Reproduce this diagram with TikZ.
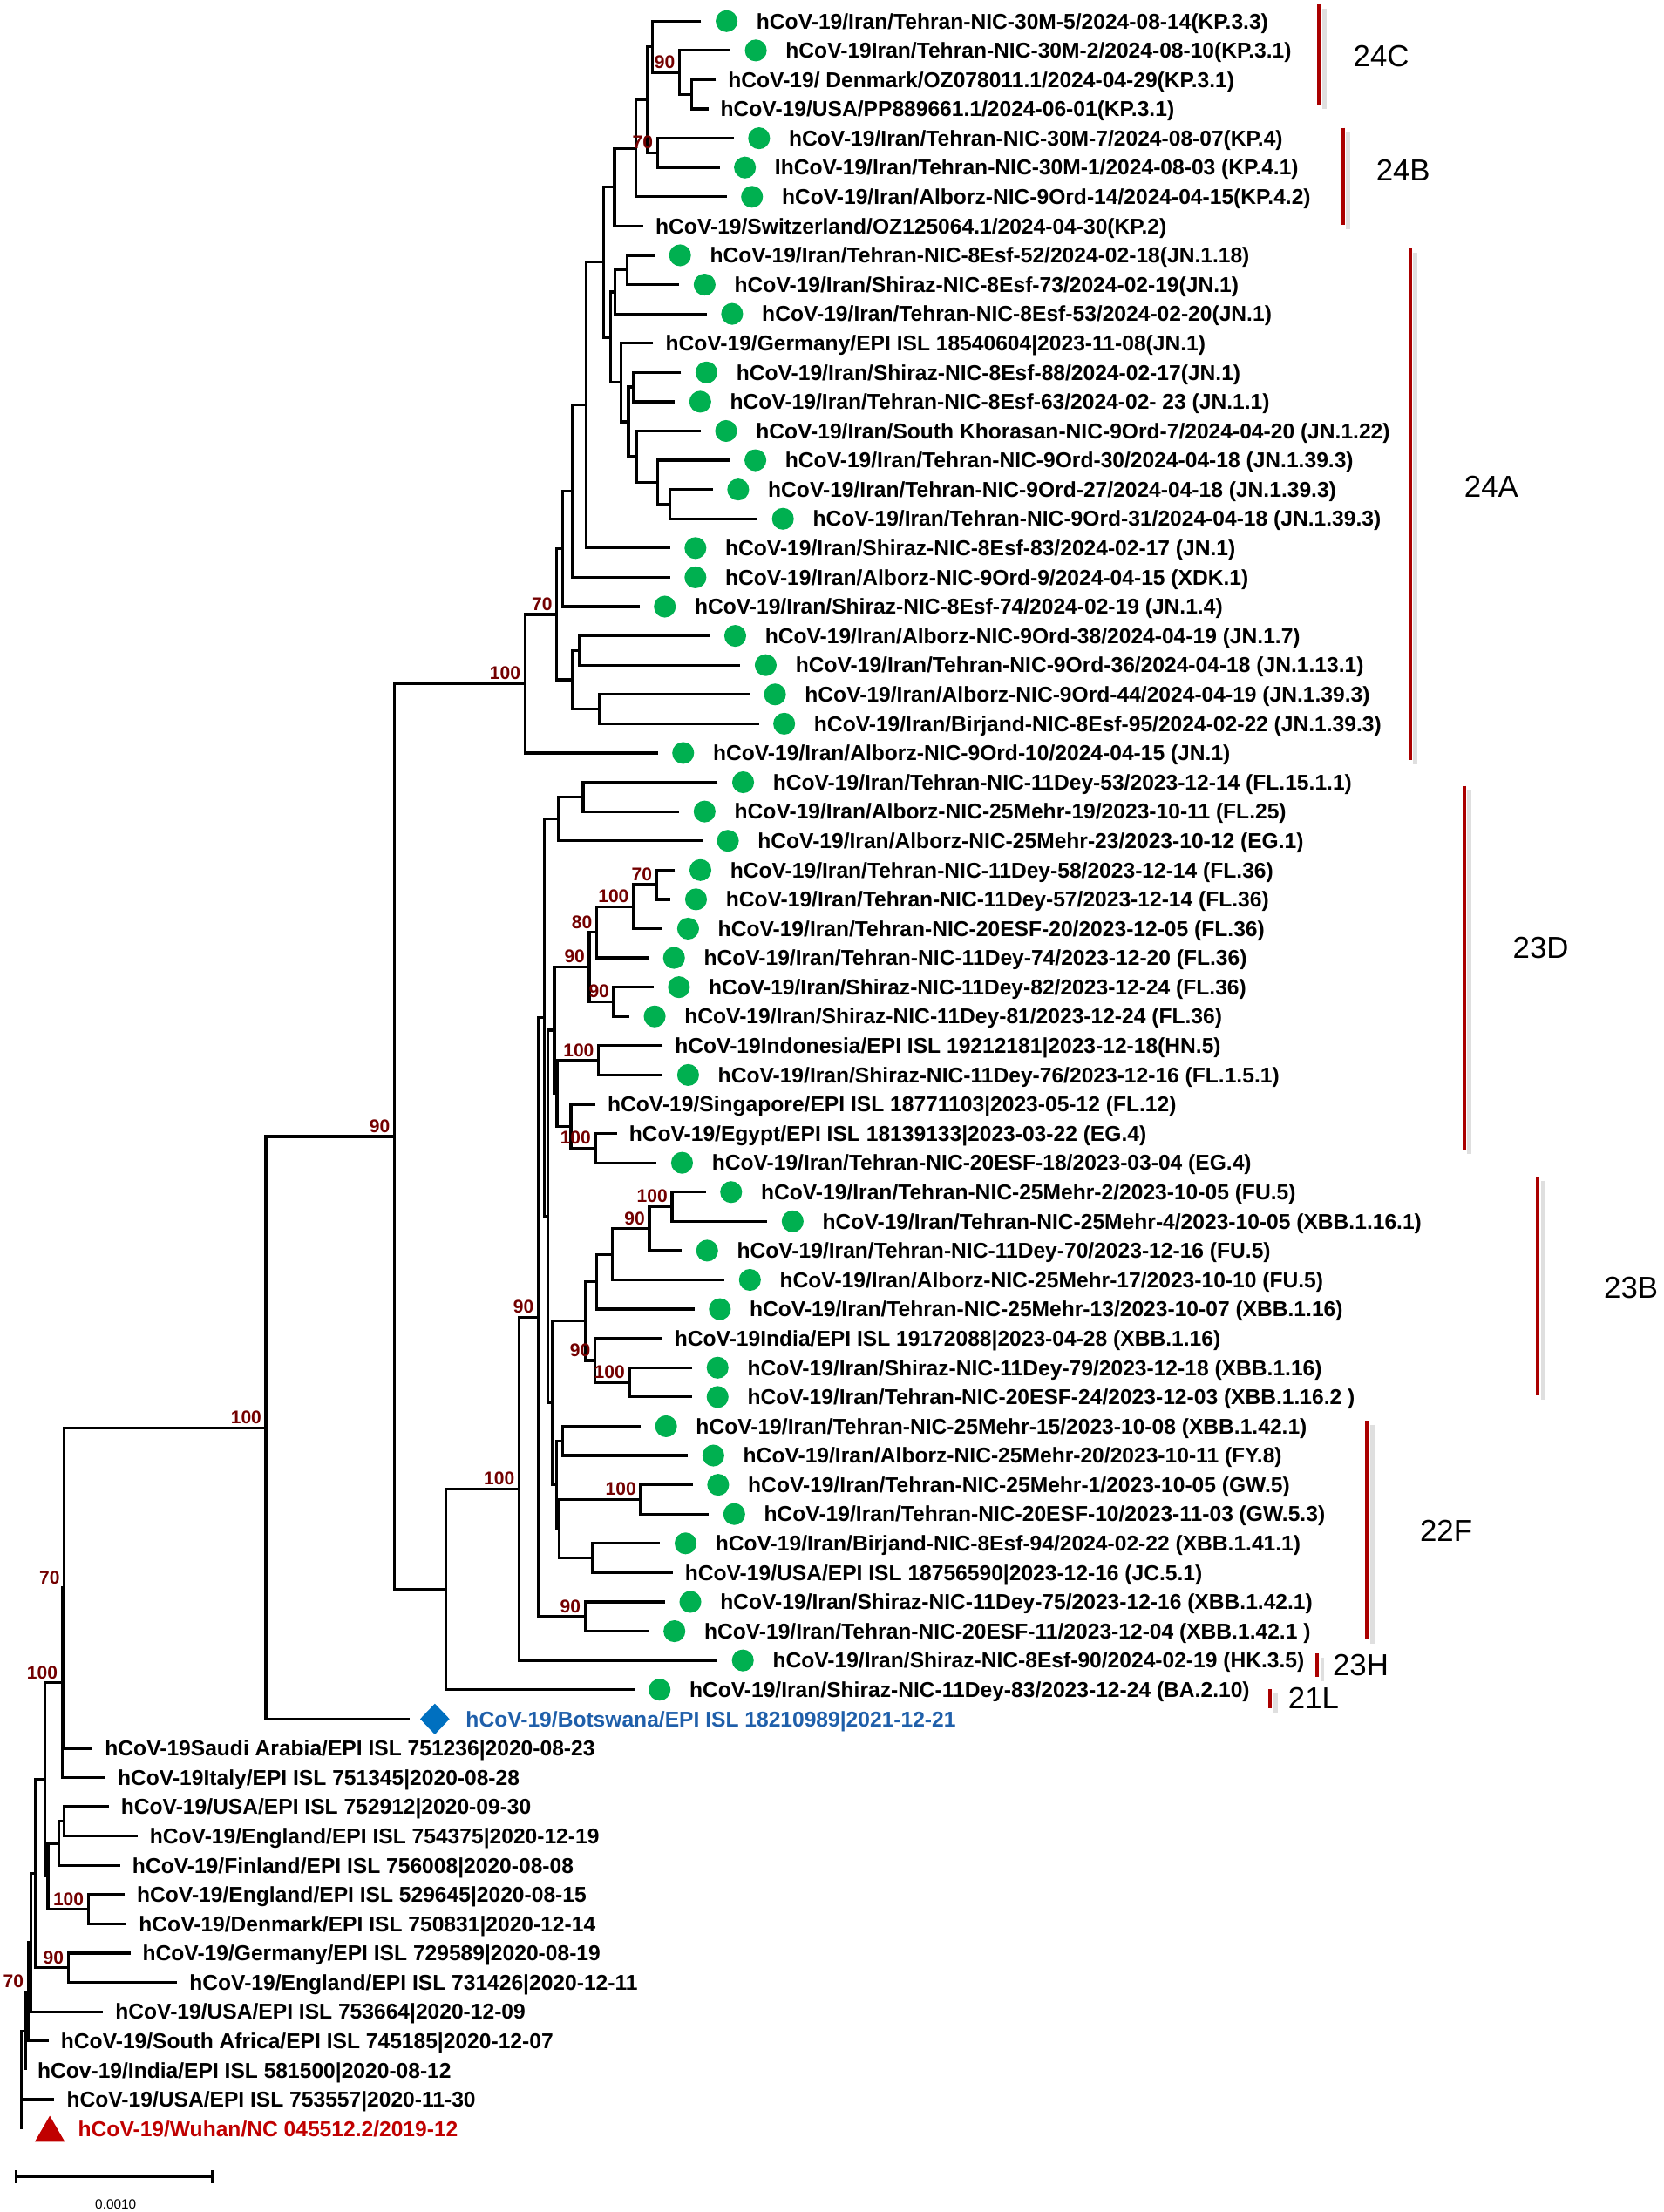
\documentclass[tikz,border=0pt]{standalone}
\usepackage{fontspec}
\setmainfont{Liberation Sans}
\usetikzlibrary{shapes.geometric}

\definecolor{dotgreen}{RGB}{0,176,80}
\definecolor{bootred}{RGB}{115,0,0}
\definecolor{barred}{RGB}{170,0,0}
\definecolor{botsblue}{RGB}{31,95,170}
\definecolor{diablue}{RGB}{0,112,192}
\definecolor{wuhanred}{RGB}{192,0,0}

% leaf with a green dot (Iranian sample) and plain reference leaf
\newcommand{\iranleaf}[4]{%
  \coordinate (#1) at (#2,#3);
  \node[greendot] (#1d) at ([xshift=18pt]#1) {};
  \node[leaflabel] (#1t) at ([xshift=39pt]#1) {#4};}
\newcommand{\refleaf}[4]{%
  \coordinate (#1) at (#2,#3);
  \node[leaflabel] (#1t) at ([xshift=8.5pt]#1) {#4};}
\newcommand{\clade}[3]{\draw[branch] (#2) -| (#1) |- (#3);}
\newcommand{\bootlabel}[2]{\node[bootval] (bs#1) at (#1) {#2};}
\newcommand{\cladebar}[6]{%
  \draw[barshadow] (#2,#3) -- (#2,#4);
  \draw[cladebar] (#2,#3) -- (#2,#4);
  \node[cladename] (c#1) at (#5,#6) {#1};}

\begin{document}
\begin{tikzpicture}[x=1pt,y=-20.75pt,line join=miter]
  \tikzstyle{branch}=[line width=2pt]
  \tikzstyle{leaflabel}=[anchor=west,inner sep=0pt,text height=12pt,text depth=1.2pt,
                         font=\fontsize{15.2}{18}\selectfont\bfseries]
  \tikzstyle{greendot}=[circle,fill=dotgreen,inner sep=0pt,minimum size=15.5pt]
  \tikzstyle{bootval}=[anchor=south east,inner sep=0pt,xshift=-3pt,yshift=2.5pt,
                       text=bootred,font=\fontsize{13}{15}\selectfont\bfseries]
  \tikzstyle{cladebar}=[barred,line width=2.5pt]
  \tikzstyle{barshadow}=[gray!25,line width=3pt,xshift=3.5pt,yshift=-3pt]
  \tikzstyle{cladename}=[inner sep=0pt,font=\fontsize{21.5}{24}\selectfont]

  \useasboundingbox (0,0.2771) rectangle (1179,75.843);

  % 24C / 24B
  \iranleaf{l1}{497}{1}{hCoV-19/Iran/Tehran-NIC-30M-5/2024-08-14(KP.3.3)}
  \iranleaf{l2}{517.7}{2}{hCoV-19Iran/Tehran-NIC-30M-2/2024-08-10(KP.3.1)}
  \refleaf{l3}{507.4}{3}{hCoV-19/ Denmark/OZ078011.1/2024-04-29(KP.3.1)}
  \refleaf{l4}{502}{4}{hCoV-19/USA/PP889661.1/2024-06-01(KP.3.1)}
  \iranleaf{l5}{520}{5}{hCoV-19/Iran/Tehran-NIC-30M-7/2024-08-07(KP.4)}
  \iranleaf{l6}{510}{6}{IhCoV-19/Iran/Tehran-NIC-30M-1/2024-08-03 (KP.4.1)}
  \iranleaf{l7}{515}{7}{hCoV-19/Iran/Alborz-NIC-9Ord-14/2024-04-15(KP.4.2)}
  \refleaf{l8}{456}{8}{hCoV-19/Switzerland/OZ125064.1/2024-04-30(KP.2)}
  % 24A
  \iranleaf{l9}{464}{9}{hCoV-19/Iran/Tehran-NIC-8Esf-52/2024-02-18(JN.1.18)}
  \iranleaf{l10}{481.4}{10}{hCoV-19/Iran/Shiraz-NIC-8Esf-73/2024-02-19(JN.1)}
  \iranleaf{l11}{500.9}{11}{hCoV-19/Iran/Tehran-NIC-8Esf-53/2024-02-20(JN.1)}
  \refleaf{l12}{463}{12}{hCoV-19/Germany/EPI ISL 18540604|2023-11-08(JN.1)}
  \iranleaf{l13}{482.7}{13}{hCoV-19/Iran/Shiraz-NIC-8Esf-88/2024-02-17(JN.1)}
  \iranleaf{l14}{478.3}{14}{hCoV-19/Iran/Tehran-NIC-8Esf-63/2024-02- 23 (JN.1.1)}
  \iranleaf{l15}{496.6}{15}{hCoV-19/Iran/South Khorasan-NIC-9Ord-7/2024-04-20 (JN.1.22)}
  \iranleaf{l16}{517.4}{16}{hCoV-19/Iran/Tehran-NIC-9Ord-30/2024-04-18 (JN.1.39.3)}
  \iranleaf{l17}{505.2}{17}{hCoV-19/Iran/Tehran-NIC-9Ord-27/2024-04-18 (JN.1.39.3)}
  \iranleaf{l18}{536.9}{18}{hCoV-19/Iran/Tehran-NIC-9Ord-31/2024-04-18 (JN.1.39.3)}
  \iranleaf{l19}{474.9}{19}{hCoV-19/Iran/Shiraz-NIC-8Esf-83/2024-02-17 (JN.1)}
  \iranleaf{l20}{474.9}{20}{hCoV-19/Iran/Alborz-NIC-9Ord-9/2024-04-15 (XDK.1)}
  \iranleaf{l21}{453.2}{21}{hCoV-19/Iran/Shiraz-NIC-8Esf-74/2024-02-19 (JN.1.4)}
  \iranleaf{l22}{503.1}{22}{hCoV-19/Iran/Alborz-NIC-9Ord-38/2024-04-19 (JN.1.7)}
  \iranleaf{l23}{524.7}{23}{hCoV-19/Iran/Tehran-NIC-9Ord-36/2024-04-18 (JN.1.13.1)}
  \iranleaf{l24}{531.3}{24}{hCoV-19/Iran/Alborz-NIC-9Ord-44/2024-04-19 (JN.1.39.3)}
  \iranleaf{l25}{537.8}{25}{hCoV-19/Iran/Birjand-NIC-8Esf-95/2024-02-22 (JN.1.39.3)}
  \iranleaf{l26}{466.2}{26}{hCoV-19/Iran/Alborz-NIC-9Ord-10/2024-04-15 (JN.1)}
  % 23D
  \iranleaf{l27}{508.7}{27}{hCoV-19/Iran/Tehran-NIC-11Dey-53/2023-12-14 (FL.15.1.1)}
  \iranleaf{l28}{481.4}{28}{hCoV-19/Iran/Alborz-NIC-25Mehr-19/2023-10-11 (FL.25)}
  \iranleaf{l29}{497.9}{29}{hCoV-19/Iran/Alborz-NIC-25Mehr-23/2023-10-12 (EG.1)}
  \iranleaf{l30}{478.4}{30}{hCoV-19/Iran/Tehran-NIC-11Dey-58/2023-12-14 (FL.36)}
  \iranleaf{l31}{475.3}{31}{hCoV-19/Iran/Tehran-NIC-11Dey-57/2023-12-14 (FL.36)}
  \iranleaf{l32}{469.7}{32}{hCoV-19/Iran/Tehran-NIC-20ESF-20/2023-12-05 (FL.36)}
  \iranleaf{l33}{459.7}{33}{hCoV-19/Iran/Tehran-NIC-11Dey-74/2023-12-20 (FL.36)}
  \iranleaf{l34}{463.2}{34}{hCoV-19/Iran/Shiraz-NIC-11Dey-82/2023-12-24 (FL.36)}
  \iranleaf{l35}{446}{35}{hCoV-19/Iran/Shiraz-NIC-11Dey-81/2023-12-24 (FL.36)}
  \refleaf{l36}{469.7}{36}{hCoV-19Indonesia/EPI ISL 19212181|2023-12-18(HN.5)}
  \iranleaf{l37}{469.7}{37}{hCoV-19/Iran/Shiraz-NIC-11Dey-76/2023-12-16 (FL.1.5.1)}
  \refleaf{l38}{422}{38}{hCoV-19/Singapore/EPI ISL 18771103|2023-05-12 (FL.12)}
  \refleaf{l39}{437.2}{39}{hCoV-19/Egypt/EPI ISL 18139133|2023-03-22 (EG.4)}
  \iranleaf{l40}{465.4}{40}{hCoV-19/Iran/Tehran-NIC-20ESF-18/2023-03-04 (EG.4)}
  % 23B
  \iranleaf{l41}{500.2}{41}{hCoV-19/Iran/Tehran-NIC-25Mehr-2/2023-10-05 (FU.5)}
  \iranleaf{l42}{543.8}{42}{hCoV-19/Iran/Tehran-NIC-25Mehr-4/2023-10-05 (XBB.1.16.1)}
  \iranleaf{l43}{483.2}{43}{hCoV-19/Iran/Tehran-NIC-11Dey-70/2023-12-16 (FU.5)}
  \iranleaf{l44}{513.5}{44}{hCoV-19/Iran/Alborz-NIC-25Mehr-17/2023-10-10 (FU.5)}
  \iranleaf{l45}{492.2}{45}{hCoV-19/Iran/Tehran-NIC-25Mehr-13/2023-10-07 (XBB.1.16)}
  \refleaf{l46}{469.4}{46}{hCoV-19India/EPI ISL 19172088|2023-04-28 (XBB.1.16)}
  \iranleaf{l47}{490.6}{47}{hCoV-19/Iran/Shiraz-NIC-11Dey-79/2023-12-18 (XBB.1.16)}
  \iranleaf{l48}{490.6}{48}{hCoV-19/Iran/Tehran-NIC-20ESF-24/2023-12-03 (XBB.1.16.2 )}
  % 22F
  \iranleaf{l49}{454.1}{49}{hCoV-19/Iran/Tehran-NIC-25Mehr-15/2023-10-08 (XBB.1.42.1)}
  \iranleaf{l50}{487.6}{50}{hCoV-19/Iran/Alborz-NIC-25Mehr-20/2023-10-11 (FY.8)}
  \iranleaf{l51}{491}{51}{hCoV-19/Iran/Tehran-NIC-25Mehr-1/2023-10-05 (GW.5)}
  \iranleaf{l52}{502.4}{52}{hCoV-19/Iran/Tehran-NIC-20ESF-10/2023-11-03 (GW.5.3)}
  \iranleaf{l53}{467.9}{53}{hCoV-19/Iran/Birjand-NIC-8Esf-94/2024-02-22 (XBB.1.41.1)}
  \refleaf{l54}{476.8}{54}{hCoV-19/USA/EPI ISL 18756590|2023-12-16 (JC.5.1)}
  \iranleaf{l55}{471.3}{55}{hCoV-19/Iran/Shiraz-NIC-11Dey-75/2023-12-16 (XBB.1.42.1)}
  \iranleaf{l56}{460}{56}{hCoV-19/Iran/Tehran-NIC-20ESF-11/2023-12-04 (XBB.1.42.1 )}
  % 23H, 21L
  \iranleaf{l57}{508.5}{57}{hCoV-19/Iran/Shiraz-NIC-8Esf-90/2024-02-19 (HK.3.5)}
  \iranleaf{l58}{449.5}{58}{hCoV-19/Iran/Shiraz-NIC-11Dey-83/2023-12-24 (BA.2.10)}
  % Botswana
  \coordinate (l59) at (290.1,59);
  \node[diamond,aspect=1,fill=diablue,inner sep=0pt,minimum width=21pt,minimum height=22pt] (l59d) at (308.2,59) {};
  \node[leaflabel,text=botsblue] (l59t) at (330,59) {hCoV-19/Botswana/EPI ISL 18210989|2021-12-21};
  % 2020 references
  \refleaf{l60}{65.7}{60}{hCoV-19Saudi Arabia/EPI ISL 751236|2020-08-23}
  \refleaf{l61}{74.8}{61}{hCoV-19Italy/EPI ISL 751345|2020-08-28}
  \refleaf{l62}{77.1}{62}{hCoV-19/USA/EPI ISL 752912|2020-09-30}
  \refleaf{l63}{97.5}{63}{hCoV-19/England/EPI ISL 754375|2020-12-19}
  \refleaf{l64}{85.2}{64}{hCoV-19/Finland/EPI ISL 756008|2020-08-08}
  \refleaf{l65}{88.4}{65}{hCoV-19/England/EPI ISL 529645|2020-08-15}
  \refleaf{l66}{89.8}{66}{hCoV-19/Denmark/EPI ISL 750831|2020-12-14}
  \refleaf{l67}{92.4}{67}{hCoV-19/Germany/EPI ISL 729589|2020-08-19}
  \refleaf{l68}{125.6}{68}{hCoV-19/England/EPI ISL 731426|2020-12-11}
  \refleaf{l69}{73.1}{69}{hCoV-19/USA/EPI ISL 753664|2020-12-09}
  \refleaf{l70}{34.5}{70}{hCoV-19/South Africa/EPI ISL 745185|2020-12-07}
  \refleaf{l71}{17.9}{71}{hCov-19/India/EPI ISL 581500|2020-08-12}
  \refleaf{l72}{38.6}{72}{hCoV-19/USA/EPI ISL 753557|2020-11-30}
  % Wuhan reference
  \coordinate (l73) at (15.2,73);
  \node[regular polygon,regular polygon sides=3,fill=wuhanred,inner sep=0pt,minimum size=24.5pt,yshift=-3pt] (l73d) at (35.3,73) {};
  \node[leaflabel,text=wuhanred] (l73t) at (55.2,73) {hCoV-19/Wuhan/NC 045512.2/2019-12};

  % internal nodes
  \coordinate (denusa) at (490.4,3.5);
  \coordinate (kp3b) at (481.6,2.75);
  \coordinate (kp3) at (462.6,1.875);
  \coordinate (kp4a) at (466,5.5);
  \coordinate (kp34) at (459,3.6875);
  \coordinate (kp4) at (450.7,5.344);
  \coordinate (kp) at (435.5,6.672);
  \coordinate (jn910) at (444.5,9.5);
  \coordinate (jn911) at (435.8,10.25);
  \coordinate (jn1314) at (448.9,13.5);
  \coordinate (jn1718) at (475,17.5);
  \coordinate (jn1618) at (466.2,16.75);
  \coordinate (jn1518) at (451,15.875);
  \coordinate (jn1318) at (445.4,14.6875);
  \coordinate (jn1218) at (440.2,13.344);
  \coordinate (jn918) at (433,11.797);
  \coordinate (kpjn) at (428,9.234);
  \coordinate (jn19) at (415.5,14.117);
  \coordinate (jn20) at (405.5,17.059);
  \coordinate (jn21) at (399,19.029);
  \coordinate (jn2223) at (410.7,22.5);
  \coordinate (jn2425) at (425,24.5);
  \coordinate (jn2225) at (405.5,23.5);
  \coordinate (jn70) at (394.6,21.265);
  \coordinate (jn100) at (372,23.632);
  \coordinate (d2728) at (413.3,27.5);
  \coordinate (d2729) at (396,28.25);
  \coordinate (d3031) at (465.4,30.5);
  \coordinate (d3032) at (448.9,31.25);
  \coordinate (d3033) at (422.9,32.125);
  \coordinate (d3435) at (435,34.5);
  \coordinate (d3035) at (417.7,33.3125);
  \coordinate (d3637) at (424.2,36.5);
  \coordinate (d3940) at (422,39.5);
  \coordinate (d3840) at (404.6,38.75);
  \coordinate (d3640) at (394.7,37.625);
  \coordinate (d3040) at (392.9,35.469);
  \coordinate (b4142) at (476.3,41.5);
  \coordinate (b4143) at (460.3,42.25);
  \coordinate (b4144) at (433.8,43.125);
  \coordinate (b4145) at (423.1,44.0625);
  \coordinate (b4748) at (446,47.5);
  \coordinate (b4648) at (421.6,46.75);
  \coordinate (b4148) at (415,45.406);
  \coordinate (f4950) at (398.9,49.5);
  \coordinate (f5152) at (454.1,51.5);
  \coordinate (f5354) at (419.6,53.5);
  \coordinate (f5154) at (396.5,52.5);
  \coordinate (f4954) at (394.3,51);
  \coordinate (bf) at (391.3,48.203);
  \coordinate (dbf) at (388.5,41.836);
  \coordinate (ddbf) at (385.8,35.043);
  \coordinate (f5556) at (414.7,55.5);
  \coordinate (x90) at (381.5,45.271);
  \coordinate (h100) at (367.9,51.136);
  \coordinate (s100) at (316.2,54.568);
  \coordinate (o90) at (279.5,39.1);
  \coordinate (o100) at (188.5,49.05);
  \coordinate (e70) at (45.5,54.525);
  \coordinate (e100) at (44,57.763);
  \coordinate (e6263) at (45.3,62.5);
  \coordinate (e6264) at (41.7,63.25);
  \coordinate (e6566) at (62.6,65.5);
  \coordinate (e6266) at (34,64.375);
  \coordinate (e6166) at (31.7,61.069);
  \coordinate (e6768) at (48.3,67.5);
  \coordinate (e6168) at (25.4,64.284);
  \coordinate (e69) at (22.1,66.642);
  \coordinate (e70n) at (19.9,68.321);
  \coordinate (e71) at (17.9,69.66);
  \coordinate (root) at (15.2,69.66);

  % branches
  \clade{denusa}{l3}{l4}
  \clade{kp3b}{l2}{denusa}
  \clade{kp3}{l1}{kp3b}
  \clade{kp4a}{l5}{l6}
  \clade{kp34}{kp3}{kp4a}
  \clade{kp4}{kp34}{l7}
  \clade{kp}{kp4}{l8}
  \clade{jn910}{l9}{l10}
  \clade{jn911}{jn910}{l11}
  \clade{jn1314}{l13}{l14}
  \clade{jn1718}{l17}{l18}
  \clade{jn1618}{l16}{jn1718}
  \clade{jn1518}{l15}{jn1618}
  \clade{jn1318}{jn1314}{jn1518}
  \clade{jn1218}{l12}{jn1318}
  \clade{jn918}{jn911}{jn1218}
  \clade{kpjn}{kp}{jn918}
  \clade{jn19}{kpjn}{l19}
  \clade{jn20}{jn19}{l20}
  \clade{jn21}{jn20}{l21}
  \clade{jn2223}{l22}{l23}
  \clade{jn2425}{l24}{l25}
  \clade{jn2225}{jn2223}{jn2425}
  \clade{jn70}{jn21}{jn2225}
  \clade{jn100}{jn70}{l26}
  \clade{d2728}{l27}{l28}
  \clade{d2729}{d2728}{l29}
  \clade{d3031}{l30}{l31}
  \clade{d3032}{d3031}{l32}
  \clade{d3033}{d3032}{l33}
  \clade{d3435}{l34}{l35}
  \clade{d3035}{d3033}{d3435}
  \clade{d3637}{l36}{l37}
  \clade{d3940}{l39}{l40}
  \clade{d3840}{l38}{d3940}
  \clade{d3640}{d3637}{d3840}
  \clade{d3040}{d3035}{d3640}
  \clade{b4142}{l41}{l42}
  \clade{b4143}{b4142}{l43}
  \clade{b4144}{b4143}{l44}
  \clade{b4145}{b4144}{l45}
  \clade{b4748}{l47}{l48}
  \clade{b4648}{l46}{b4748}
  \clade{b4148}{b4145}{b4648}
  \clade{f4950}{l49}{l50}
  \clade{f5152}{l51}{l52}
  \clade{f5354}{l53}{l54}
  \clade{f5154}{f5152}{f5354}
  \clade{f4954}{f4950}{f5154}
  \clade{bf}{b4148}{f4954}
  \clade{dbf}{d3040}{bf}
  \clade{ddbf}{d2729}{dbf}
  \clade{f5556}{l55}{l56}
  \clade{x90}{ddbf}{f5556}
  \clade{h100}{x90}{l57}
  \clade{s100}{h100}{l58}
  \clade{o90}{jn100}{s100}
  \clade{o100}{o90}{l59}
  \clade{e70}{o100}{l60}
  \clade{e100}{e70}{l61}
  \clade{e6263}{l62}{l63}
  \clade{e6264}{e6263}{l64}
  \clade{e6566}{l65}{l66}
  \clade{e6266}{e6264}{e6566}
  \clade{e6166}{e100}{e6266}
  \clade{e6768}{l67}{l68}
  \clade{e6168}{e6166}{e6768}
  \clade{e69}{e6168}{l69}
  \clade{e70n}{e69}{l70}
  \clade{e71}{e70n}{l71}
  \draw[branch] (e71) -- (root) |- (l72) (root) |- (l73);

  % bootstrap values
  \bootlabel{kp3b}{90}
  \bootlabel{kp4a}{70}
  \bootlabel{jn70}{70}
  \bootlabel{jn100}{100}
  \bootlabel{d3031}{70}
  \bootlabel{d3032}{100}
  \bootlabel{d3033}{80}
  \bootlabel{d3035}{90}
  \bootlabel{d3435}{90}
  \bootlabel{d3637}{100}
  \bootlabel{d3940}{100}
  \bootlabel{b4142}{100}
  \bootlabel{b4143}{90}
  \bootlabel{x90}{90}
  \bootlabel{b4648}{90}
  \bootlabel{b4748}{100}
  \bootlabel{h100}{100}
  \bootlabel{f5152}{100}
  \bootlabel{f5556}{90}
  \bootlabel{o90}{90}
  \bootlabel{o100}{100}
  \bootlabel{e70}{70}
  \bootlabel{e100}{100}
  \bootlabel{e6566}{100}
  \bootlabel{e6768}{90}
  \bootlabel{e70n}{70}

  % clade bars
  \cladebar{24C}{935}{0.422}{3.843}{979}{2.205}
  \cladebar{24B}{952}{4.643}{7.973}{994.5}{6.084}
  \cladebar{24A}{999.6}{8.759}{26.239}{1057}{16.904}
  \cladebar{23D}{1038}{27.12}{39.55}{1092}{32.66}
  \cladebar{23B}{1090}{40.47}{47.94}{1156}{44.26}
  \cladebar{22F}{969}{48.81}{56.28}{1025}{52.57}
  \cladebar{23H}{933.7}{56.76}{57.56}{964.4}{57.17}
  \cladebar{21L}{900.4}{57.99}{58.64}{931}{58.3}

  % scale bar
  \coordinate (sbl) at (11,74.64);
  \coordinate (sbr) at (150.4,74.64);
  \draw[line width=1.6pt] (sbl) -- (sbr);
  \draw[line width=1.6pt] ([yshift=4.5pt]sbl) -- ([yshift=-4.5pt]sbl)
                          ([yshift=4.5pt]sbr) -- ([yshift=-4.5pt]sbr);
  \node[inner sep=0pt,font=\fontsize{9.5}{11}\selectfont] (sbt) at (82,75.58) {0.0010};
\end{tikzpicture}
\end{document}
